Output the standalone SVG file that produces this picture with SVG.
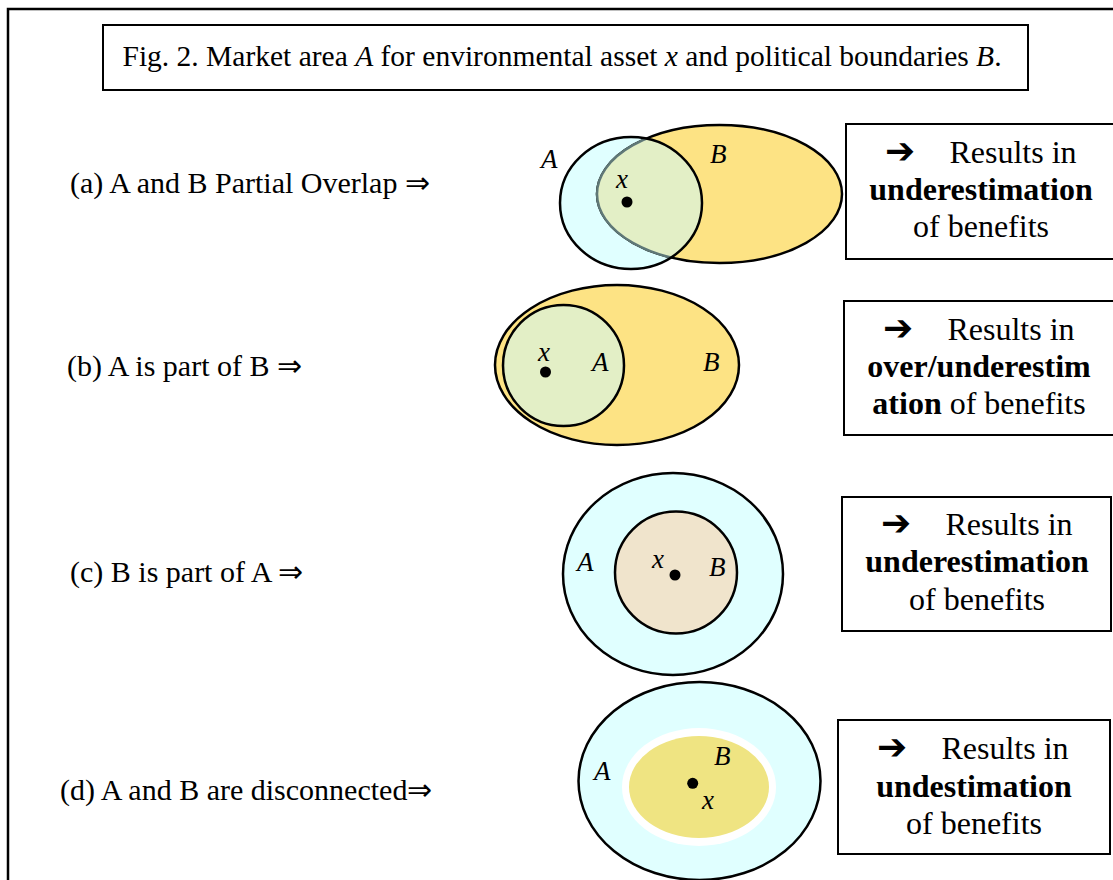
<svg xmlns="http://www.w3.org/2000/svg" width="1113" height="880" viewBox="0 0 1113 880">
<style>
text{font-family:"Liberation Serif","Times New Roman",serif;fill:#000}
.lbl{font-size:30px}
.box{fill:#fff;stroke:#000;stroke-width:2}
.res{font-size:32px;text-anchor:middle}
.b{font-weight:bold}
.it{font-style:italic;font-size:27px}
.ol{stroke:#000;stroke-width:2.5}
.arr{font-family:"DejaVu Sans",sans-serif;font-weight:bold;font-size:36px}
</style>
<defs>
<clipPath id="clipA"><ellipse cx="631" cy="203" rx="71" ry="66"/></clipPath>
</defs>
<rect x="8" y="9" width="1130" height="900" fill="#fff" stroke="#000" stroke-width="2.5"/>
<g id="title">
<rect x="103" y="25" width="925" height="65" class="box"/>
<text x="562" y="66" font-size="29.5" text-anchor="middle">Fig. 2. Market area <tspan font-style="italic">A</tspan> for environmental asset <tspan font-style="italic">x</tspan> and political boundaries <tspan font-style="italic">B</tspan>.</text>
</g>
<g id="label-a"><text x="70" y="193" class="lbl">(a) A and B Partial Overlap ⇒</text></g>
<g id="label-b"><text x="67" y="376" class="lbl">(b) A is part of B ⇒</text></g>
<g id="label-c"><text x="70" y="582" class="lbl">(c) B is part of A ⇒</text></g>
<g id="label-d"><text x="60" y="800" class="lbl">(d) A and B are disconnected⇒</text></g>

<g id="diagram-a">
<ellipse cx="631" cy="203" rx="71" ry="66" fill="#e0ffff"/>
<ellipse cx="719.5" cy="194" rx="122.5" ry="69" fill="#fde384" class="ol"/>
<ellipse cx="719.5" cy="194" rx="122.5" ry="69" fill="#e3efc6" stroke="#5f7877" stroke-width="2.5" clip-path="url(#clipA)"/>
<ellipse cx="631" cy="203" rx="71" ry="66" fill="none" class="ol"/>
<circle cx="627" cy="202" r="5.5"/>
<text x="616" y="188" class="it">x</text>
<text x="541" y="168" class="it">A</text>
<text x="710" y="163" class="it">B</text>
</g>

<g id="diagram-b">
<ellipse cx="617" cy="365" rx="122" ry="80" fill="#fde384" class="ol"/>
<circle cx="563.5" cy="365.5" r="60.5" fill="#e3efc6" class="ol"/>
<circle cx="545.5" cy="372" r="5.5"/>
<text x="538" y="361" class="it">x</text>
<text x="592" y="371" class="it">A</text>
<text x="703" y="371" class="it">B</text>
</g>

<g id="diagram-c">
<ellipse cx="673" cy="574" rx="110" ry="101" fill="#e0ffff" class="ol"/>
<circle cx="676" cy="572.5" r="61" fill="#f0e4cc" class="ol"/>
<circle cx="675" cy="575" r="5.5"/>
<text x="652" y="568" class="it">x</text>
<text x="709" y="576" class="it">B</text>
<text x="577" y="571" class="it">A</text>
</g>

<g id="diagram-d">
<ellipse cx="699.5" cy="781" rx="121" ry="99" fill="#e0ffff" class="ol"/>
<ellipse cx="699" cy="787" rx="77" ry="59" fill="#fff"/>
<ellipse cx="699" cy="787" rx="70" ry="51" fill="#efe482"/>
<circle cx="692.7" cy="783.3" r="5.5"/>
<text x="714" y="765" class="it">B</text>
<text x="702" y="809" class="it">x</text>
<text x="594" y="780" class="it">A</text>
</g>

<g id="result-a">
<rect x="846" y="124" width="280" height="135" class="box"/>
<text x="885" y="163" class="arr">➔</text>
<text x="1013" y="163" class="res">Results in</text>
<text x="981" y="200" class="res b">underestimation</text>
<text x="981" y="237" class="res">of benefits</text>
</g>
<g id="result-b">
<rect x="844" y="301" width="280" height="134" class="box"/>
<text x="883" y="340" class="arr">➔</text>
<text x="1011" y="340" class="res">Results in</text>
<text x="979" y="377" class="res b">over/underestim</text>
<text x="979" y="414" class="res"><tspan class="b">ation</tspan> of benefits</text>
</g>
<g id="result-c">
<rect x="842" y="497" width="269" height="134" class="box"/>
<text x="881" y="535" class="arr">➔</text>
<text x="1009" y="535" class="res">Results in</text>
<text x="977" y="572" class="res b">underestimation</text>
<text x="977" y="610" class="res">of benefits</text>
</g>
<g id="result-d">
<rect x="838" y="720" width="272" height="134" class="box"/>
<text x="877" y="759" class="arr">➔</text>
<text x="1005" y="759" class="res">Results in</text>
<text x="974" y="797" class="res b">undestimation</text>
<text x="974" y="834" class="res">of benefits</text>
</g>
</svg>
